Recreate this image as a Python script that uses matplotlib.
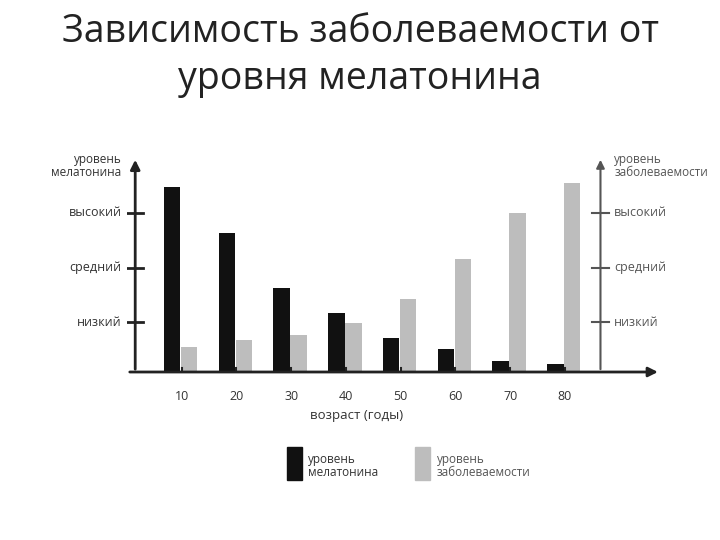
import matplotlib
matplotlib.use("Agg")
import matplotlib.pyplot as plt
from matplotlib.patches import Rectangle

ages = [10, 20, 30, 40, 50, 60, 70, 80]
melatonin = [185, 139, 84, 59, 34, 23, 11, 8]
morbidity = [25, 32, 37, 49, 73, 113, 159, 189]
level_labels = ["высокий", "средний", "низкий"]
level_values = [159, 104, 50]

plt.rcParams['font.family'] = ['Open Sans', 'DejaVu Sans']
fig = plt.figure(figsize=(7.2, 5.4), dpi=100)
fig.text(0.5, 0.975, "Зависимость заболеваемости от\nуровня мелатонина", ha='center', va='top',
         fontsize=27, color='#222222', linespacing=1.3)

ax = fig.add_axes([127/720, 1-372/540, 520/720, 222/540])
ax.set_xlim(0, 95); ax.set_ylim(0, 222)
ax.axis('off')
ax.bar([a - 1.75 for a in ages], melatonin, width=3, color='#111111')
ax.bar([a + 1.35 for a in ages], morbidity, width=3, color='#bdbdbd')

ax.annotate('', xy=(97.5, 0), xytext=(0, 0), annotation_clip=False,
            arrowprops=dict(arrowstyle='-|>', color='#222', lw=2, mutation_scale=14))
ax.annotate('', xy=(1.5, 215), xytext=(1.5, 0), annotation_clip=False,
            arrowprops=dict(arrowstyle='-|>', color='#222', lw=2, mutation_scale=14))
ax.annotate('', xy=(86.5, 215), xytext=(86.5, 0), annotation_clip=False,
            arrowprops=dict(arrowstyle='-|>', color='#555', lw=1.5, mutation_scale=12))
for a in ages:
    ax.plot([a, a], [-4, 4], color='#222', lw=1.5)
    ax.text(a, -25, str(a), ha='center', va='center', fontsize=9, color='#333')
ax.text(42, -43, "возраст (годы)", ha='center', va='center', fontsize=9.5, color='#333')
for lab, v in zip(level_labels, level_values):
    ax.plot([0, 3], [v, v], color='#222', lw=2)
    ax.text(-1, v, lab, ha='right', va='center', fontsize=9, color='#333')
    ax.plot([85, 88], [v, v], color='#555', lw=1.5)
    ax.text(89, v, lab, ha='left', va='center', fontsize=9, color='#555')
ax.text(-1, 206, "уровень\nмелатонина", ha='right', va='center', fontsize=8.5,
        color='#333', linespacing=0.95)
ax.text(89, 206, "уровень\nзаболеваемости", ha='left', va='center', fontsize=8.5,
        color='#555', linespacing=0.95)

fig.add_artist(Rectangle((287/720, 1-480/540), 15/720, 33/540, color='#111111', transform=fig.transFigure))
fig.add_artist(Rectangle((415/720, 1-480/540), 15/720, 33/540, color='#bdbdbd', transform=fig.transFigure))
fig.text(308/720, 1-466/540, "уровень\nмелатонина", ha='left', va='center', fontsize=8.5, color='#333', linespacing=0.95)
fig.text(437/720, 1-466/540, "уровень\nзаболеваемости", ha='left', va='center', fontsize=8.5, color='#555', linespacing=0.95)
fig.savefig("out.png", dpi=100)
